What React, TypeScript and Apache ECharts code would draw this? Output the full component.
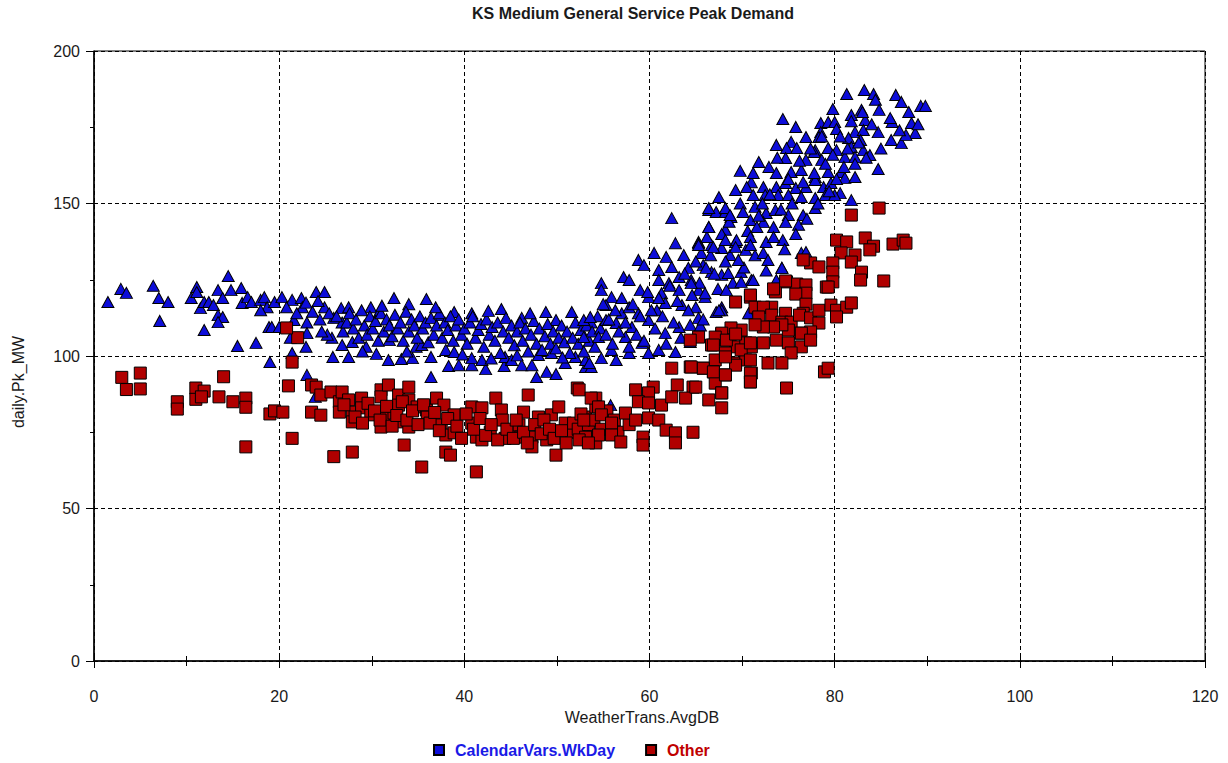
import React, { useEffect, useRef } from "react";
import * as echarts from "echarts";

const chartTitle = "KS Medium General Service Peak Demand";
const xAxisName = "WeatherTrans.AvgDB";
const yAxisName = "daily.Pk_MW";
const seriesNames = ["CalendarVars.WkDay", "Other"];

// Weekday peaks, cold side (x < 27)
const wkdayCold: number[][] = [
  [1.5, 117.7], [2.9, 122], [3.5, 120.7], [6.4, 123], [7.0, 119], [8.0, 117.7], [7.1, 111.5],
  [10.5, 119], [11.1, 122.6], [11.1, 121], [11.5, 115.7], [11.9, 117.7], [12.4, 117.7], [12.9, 116.7],
  [11.9, 108.5], [13.4, 121.6], [13.9, 119], [13.4, 113.4], [13.9, 112.8], [13.4, 111.1], [14.5, 126.2],
  [14.8, 121.6], [15.9, 122.3], [16, 117.4], [16.6, 119.3], [15.5, 103.3], [17.5, 104.3], [17, 117.7],
  [18, 118.4], [18.4, 119.3], [18.7, 116], [19.5, 117.7], [18.9, 109.5], [19.2, 109.5], [20, 109.5],
  [19, 98], [18, 115], [20.3, 119.3], [21.4, 118.4], [22.4, 119], [22.5, 116], [21.4, 101], [22.9, 103],
  [23, 93.8], [24, 121], [24.9, 121], [23.9, 86.6], [21.6, 111.8], [23, 111], [24.9, 116], [25.7, 106],
  [25.9, 112.5], [26.7, 115.7], [26.8, 111], [25.2, 107], [25.8, 99.7], [23, 107.5], [20.8, 116],
  [21.9, 114], [22.9, 117.5], [23.6, 114.5], [24.4, 112], [24.2, 118], [25.4, 114], [21.2, 106], [24.6, 108],
];

// Weekday peaks, mild band (27..55)
const wkdayMild: number[][] = [
  [32.4, 119], [35.9, 118.7], [34, 117], [29.9, 116], [30.8, 114.4], [27.5, 116], [44, 115.4],
  [40.8, 114], [37.3, 113.4], [38.9, 114.4], [48.8, 114.4], [51.6, 114.4], [46.2, 112.5], [49.9, 111.8],
  [53.7, 111], [27.5, 99.7], [30.5, 100.7], [31.8, 98.7], [33.2, 99], [34.4, 99.3], [36.4, 99.7],
  [36.4, 93.1], [38.3, 96.7], [39.4, 97], [40.8, 97], [42.3, 95.7], [44.3, 96.7], [46.2, 97],
  [47.8, 93.1], [48.9, 94.8], [49.9, 94.1], [47.3, 97], [50.9, 97.7], [53.1, 96.4], [53.7, 96.4],
  [26.8, 103.6], [27.9, 104.6], [29.4, 103], [31.9, 105.2], [34.8, 103], [35.4, 103.6], [38, 102],
  [38.9, 101.3], [40.8, 99.3], [41.9, 98.7], [44.4, 99.7], [45.1, 98.7], [48, 100.3], [49.4, 101],
  [52, 99.7], [53.1, 98.7],
  [26.2, 113], [26.9, 108], [27.3, 111], [27.6, 114], [28, 109], [28.3, 112], [28.6, 106], [28.9, 115],
  [29.2, 110], [29.5, 107], [29.8, 113], [30.1, 109], [30.4, 111.5], [30.7, 105], [31, 114], [31.3, 108],
  [31.6, 112], [31.9, 110], [32.2, 106.5], [32.5, 113.5], [32.8, 109], [33.1, 111], [33.4, 105],
  [33.7, 114.5], [34, 108], [34.3, 112], [34.6, 110], [34.9, 106], [35.2, 113], [35.5, 109], [35.8, 111],
  [36.1, 104.5], [36.4, 112.5], [36.7, 107], [37, 110], [37.3, 114], [37.6, 106], [37.9, 111],
  [38.2, 108.5], [38.5, 113], [38.8, 105], [39.1, 110], [39.4, 112], [39.7, 107], [40, 109], [40.3, 104],
  [40.6, 111], [40.9, 113], [41.2, 106], [41.5, 108.5], [41.8, 110.5], [42.1, 103], [42.4, 112],
  [42.7, 107], [43, 109.5], [43.3, 105], [43.6, 111], [43.9, 101], [44.2, 108], [44.5, 112.5], [44.8, 106],
  [45.1, 110], [45.4, 103.5], [45.7, 108], [46, 111], [46.3, 105], [46.6, 109], [46.9, 101.5], [47.2, 107],
  [47.5, 111.5], [47.8, 104], [48.1, 109], [48.4, 102], [48.7, 106.5], [49, 110.5], [49.3, 104],
  [49.6, 108], [49.9, 102.5], [50.2, 106], [50.5, 110], [50.8, 104.5], [51.1, 108], [51.4, 101],
  [51.7, 106], [52, 111], [52.3, 104], [52.6, 108.5], [52.9, 101.5], [53.2, 110], [53.5, 105], [53.8, 108],
  [54.1, 103], [54.4, 113], [54.7, 109], [31.1, 116.5], [36.9, 116], [42.6, 114.8], [47.1, 114],
  [33.8, 101.5], [39.8, 100.5], [45.7, 100.2], [50.6, 99.5], [29, 101.5], [42.9, 99.2],
];

// Weekday peaks, warming (55..72)
const wkdayWarm: number[][] = [
  [62.4, 145.2], [66.4, 147.9], [67.2, 147.2], [68.2, 147.2], [68.8, 145.6], [66.4, 142.3], [68.2, 141.4],
  [62.8, 137], [65.3, 137.4], [60.5, 133.8], [63.7, 133.1], [61.8, 132.5], [58.8, 131.5], [59.4, 129.8],
  [65.6, 133.8], [66.7, 136.4], [67.8, 135.4], [69.3, 137.4], [70.4, 134.8], [68.7, 133.1], [65.8, 129.8],
  [66.7, 127.5], [67.8, 126.6], [69.9, 127.5], [71, 124.9], [57.2, 125.9], [57.8, 124.9], [61, 128.2],
  [62.4, 129.2], [64.2, 128.9], [63.2, 125.9], [61, 124.9], [62.1, 123.9], [64.5, 124.9], [54.8, 123.9],
  [54.8, 121.6], [55.9, 119.3], [55.3, 116.7], [59, 121.6], [59.9, 119.3], [61.3, 120.6], [63.2, 121.6],
  [65.3, 121.6], [66, 119.3], [61.7, 117.4], [63.5, 116.7], [65, 116], [67.8, 116], [67.2, 114.4],
  [60.8, 115], [58.8, 114], [57, 114], [57.8, 116], [52.9, 111.8], [53.6, 112.8], [55.3, 111.8],
  [56.4, 110.8], [58.1, 109.5], [59.9, 111.8], [61.7, 107.5], [63.2, 109.5], [52.9, 106.2], [54.5, 106.2],
  [55.9, 102], [57.4, 106.2], [57.8, 101], [59.2, 104.3], [59.9, 101], [61, 102], [62.8, 101.3],
  [64.4, 104.6], [56.4, 98.7], [53.5, 97.7], [54.8, 99.3], [55.8, 83.9], [70.9, 114], [67.8, 115],
  [65.3, 137], [74.3, 128.9], [70.7, 114], [67.5, 115], [65.3, 112.5], [64.4, 110.2], [65.5, 110],
  [55, 117], [55.3, 107], [55.6, 112], [56, 104], [56.3, 115], [56.7, 108], [57, 119], [57.4, 111],
  [57.8, 103], [58.2, 117], [58.6, 107], [59, 113], [59.4, 105], [59.8, 121], [60.2, 115], [60.6, 109],
  [61, 119], [61.4, 113], [61.8, 104], [62.2, 123], [62.6, 111], [63, 118], [63.4, 106], [63.8, 127],
  [64.2, 115], [64.6, 120], [65, 131], [65.4, 124], [65.8, 112], [66.2, 139], [66.6, 133], [67, 127],
  [67.4, 122], [67.8, 140], [68.2, 131], [68.6, 144], [69, 124], [69.4, 138], [69.8, 150], [70.2, 129],
  [70.6, 141], [71, 157], [71.4, 133],
];

// Weekday peaks, hot side (x > 64, high loads)
const wkdayHot: number[][] = [
  [81.3, 185.9], [83.2, 187.2], [84.2, 185.9], [84.4, 184], [86.6, 185.6], [87.2, 183.3], [89.3, 182],
  [79.8, 181], [81.8, 179], [82.9, 180.7], [83.3, 177.4], [84.8, 180.7], [74.4, 177.7], [75.8, 175.1],
  [76.9, 171.8], [78.5, 176.4], [79.3, 176.7], [80, 176.7], [78.5, 173.4], [80.2, 174.4], [82.2, 173.4],
  [83.1, 174.1], [84.7, 173.4], [86.2, 176.7], [88.3, 176.4], [88.7, 173.1], [86.1, 170.8], [87.2, 169.8],
  [87.7, 172.5], [81.5, 171.5], [82.8, 170.8], [78.3, 171.8], [73.7, 169.2], [75.3, 170.2], [74.8, 168.2],
  [75.9, 168.2], [77.9, 167.5], [79.3, 168.2], [80.2, 167.5], [81.8, 168.5], [83.1, 167.5], [83.8, 165.9],
  [81.1, 165.2], [82.2, 165.2], [84.7, 161.3], [71.8, 163.6], [72.9, 162], [74.7, 164.9], [76.9, 164.3],
  [77.8, 166.9], [78.6, 164.3], [69.8, 160.7], [71.2, 160], [73.7, 160], [75.3, 160.3], [76.4, 161],
  [77.9, 158.7], [79.3, 160.3], [80.7, 160.3], [81.1, 158.4], [82.2, 158.7], [69.3, 154.4], [70.5, 155.4],
  [71.2, 152.8], [72.3, 155.4], [73.7, 155.4], [74.7, 156.7], [75.8, 155.1], [76.9, 155.4], [77.9, 157.7],
  [78.8, 155.4], [79.6, 156.7], [80.6, 153.4], [81.8, 151.1], [67.5, 152.1], [72.5, 152.8], [73.9, 152.8],
  [75, 152.8], [76.4, 152.1], [77.9, 151.8], [79, 152.8], [80, 152.8], [66.4, 148.5], [68.2, 148.5],
  [68.7, 146.2], [70.1, 147.2], [71.4, 148.9], [72.6, 146.9], [73.6, 147.9], [75, 146.2], [76.6, 146.2],
  [77.9, 148.5], [70.9, 144.6], [72.3, 143.9], [74.7, 143.9], [76.1, 143], [71.6, 142.3], [73.4, 142.3],
  [66.4, 142.3], [65.3, 136.4], [66.9, 135.7], [68.2, 138], [69.3, 135.7], [70.9, 139], [70.9, 136.4],
  [72.6, 137.4], [74.4, 138], [76.4, 133.8], [76.9, 134.1], [72.3, 133.8], [74.3, 128.9], [73.7, 124.9],
  [71.2, 124.9], [72.8, 131.5], [69.6, 131.5], [68.5, 127.2], [66.1, 128.9], [64.5, 123.9], [66, 120.6],
  [68.3, 121.6], [69.9, 124.3], [71.8, 146], [72.2, 150], [72.6, 128], [73, 153], [73.4, 139], [73.8, 165],
  [74.2, 148], [74.6, 135], [75, 158], [75.4, 150], [75.8, 140], [76.2, 164], [76.6, 157], [77, 145],
  [77.4, 168], [77.8, 160], [78.2, 150], [78.6, 172], [79, 163], [79.4, 154], [79.8, 166], [80.2, 158],
  [80.6, 172], [81, 162], [81.4, 168], [81.8, 177], [82.2, 163], [82.6, 170], [83, 180], [83.4, 165],
  [84, 176], [85, 168], [86, 178], [87, 174], [88, 180], [89, 176], [89.8, 182],
];

// Other days, cold side (x < 27)
const otherCold: number[][] = [
  [3, 93], [3.5, 89], [5, 94.4], [5, 89.2], [9, 85], [9, 82.6], [11, 89.5], [11, 85.8], [11.9, 88.5],
  [11.6, 86.6], [14, 93.2], [13.5, 86.6], [15, 85], [16.4, 86.2], [16.4, 83.2], [16.4, 70.2], [19, 81],
  [19.5, 82], [20.4, 81.6], [21, 90.2], [21.4, 98], [22, 106], [20.8, 109.2], [21.4, 73], [23.5, 90.5],
  [24, 89.8], [24.5, 87.2], [23.5, 81.6], [24.5, 80.6], [25.6, 88.2], [26.5, 85], [26.5, 81.6], [25.9, 67],
];

// Other days, mild band (27..58)
const otherMild: number[][] = [
  [26.8, 88.2], [27.5, 85.6], [28.9, 86.2], [27.9, 81.6], [27.9, 78.4], [28.9, 83], [29.9, 80.7],
  [31, 88.9], [31, 86.6], [31.8, 90.5], [31, 76.7], [31.3, 80.7], [32.4, 81.3], [32.9, 87.2], [32.9, 83.9],
  [34, 89.8], [34, 85.6], [32.9, 78.4], [34, 76.7], [34.9, 83.3], [35.9, 82.3], [36, 80], [37, 86.2],
  [37.8, 83.9], [38.9, 80.7], [37.5, 77.4], [38, 74.1], [38.9, 74.8], [33.5, 70.8], [27.9, 68.5],
  [35.4, 63.6], [38, 68.5], [38.5, 67.5], [40.8, 83.3], [41.9, 83], [40.8, 78], [41.3, 73.4], [41.9, 72.5],
  [41.3, 62], [43.4, 86.2], [44, 82.3], [44.1, 79], [45, 75], [45.9, 77.4], [46.4, 81.6], [46.9, 87.2],
  [46.1, 73.4], [47.3, 73.4], [47.3, 70.2], [48, 80], [48.9, 72.5], [49.4, 80.7], [49.9, 67.5],
  [50.2, 83.3], [50.9, 78], [51.6, 75], [52.2, 89.5], [53.1, 80], [52.9, 73.4], [53.9, 73.4], [54.2, 86.2],
  [54.2, 83.3], [54.2, 71.5], [44.4, 73], [42.8, 75],
  [27, 84], [28.2, 80], [29, 78], [29.6, 84.5], [30.3, 82], [30.9, 79], [31.6, 83.5], [32.2, 77],
  [32.7, 80.5], [33.3, 85], [33.8, 79], [34.4, 82], [35, 77.5], [35.6, 84], [36.3, 78], [36.8, 81.5],
  [37.3, 75.5], [38.2, 79.5], [39.2, 77], [39.7, 73], [40.2, 81], [41, 76], [41.7, 79.5], [42.3, 74],
  [42.9, 77.5], [43.6, 72.5], [44.6, 76], [45.3, 73], [45.6, 79], [46.4, 75], [46.8, 71.5], [47.6, 77.5],
  [48.3, 74.5], [48.6, 79], [49.2, 76], [49.7, 73], [50.5, 75.5], [51, 71.5], [51.8, 78], [52.3, 76],
  [52.6, 81], [53.4, 77.5], [54, 79], [54.8, 76], [55.4, 82], [56.2, 79], [56.6, 75], [57.8, 77.5],
];

// Other days, warm side (x > 52)
const otherWarm: number[][] = [
  [69.3, 117.7], [70.9, 119.3], [65.3, 106.2], [64.4, 105.2], [66.7, 103.6], [67.8, 107.2], [68.7, 106.2],
  [69.8, 107.9], [69.3, 103], [70.4, 104.3], [71, 103], [68.2, 105.2], [67.1, 98.7], [68.2, 101],
  [69.3, 97.7], [70.4, 98.7], [71, 94.4], [70.9, 91.5], [62.4, 96], [64.4, 96.4], [65.8, 96], [66.9, 94.8],
  [68.2, 93.8], [63, 90.5], [64.7, 89.8], [67.1, 91.1], [67.8, 87.9], [66.4, 85.6], [67.8, 83],
  [60.4, 89.8], [59.9, 87.9], [58.5, 88.9], [58.8, 85], [59.9, 84.6], [61.3, 83.9], [62.4, 86.6],
  [63.9, 86.2], [52.4, 88.9], [53.7, 86.2], [54.5, 83.3], [52.9, 79], [54.8, 80.7], [55.9, 78], [57.4, 81.3],
  [58.5, 79], [59.9, 79.7], [61, 79], [53.1, 73.4], [54.5, 74.1], [55.9, 74.1], [56.9, 71.8], [59.3, 73.4],
  [59.3, 70.8], [61.8, 75.7], [62.8, 74.8], [62.8, 71.5], [64.7, 75], [52.4, 72.5], [53.4, 71.5],
  [81.8, 146.2], [84.8, 148.5], [80.2, 138], [81.3, 137.4], [83.3, 138.7], [84.2, 136], [86.3, 136.7],
  [87.4, 138], [87.7, 137], [80.7, 133.8], [82.2, 133.1], [83.8, 134.8], [79.8, 130.5], [81.8, 130.8],
  [82.9, 127.5], [79.8, 127.5], [79.8, 124.3], [79.1, 122.6], [82.8, 124.9], [85.3, 124.6], [77.4, 130.5],
  [78.3, 129.2], [76.6, 131.5], [74.8, 124.3], [75.9, 123.6], [76.9, 123.3], [76.9, 120.6], [73.6, 121],
  [70.9, 120], [73.4, 122], [74.7, 124.6], [75.8, 120.3], [76.9, 117], [76.6, 114], [74.7, 114], [73.2, 116],
  [71.4, 116], [72.3, 116], [73.2, 113.4], [71.8, 112.8], [74.3, 111.1], [75.3, 111.1], [76.2, 113.4],
  [77.4, 112.5], [78.3, 115], [78.3, 110.8], [79.6, 116.7], [80.2, 115], [81.3, 116], [81.8, 117.4],
  [80.2, 112.8], [79.3, 122.6], [77.4, 107.9], [76.2, 107.5], [75, 108.5], [74.3, 110.2], [73.4, 109.5],
  [72.3, 109.5], [71.4, 110.2], [69.9, 108.5], [68.8, 109.2], [67.8, 107.5], [67.1, 106.2], [66.9, 103.6],
  [68.3, 105.2], [69.3, 107.2], [69.9, 102], [70.9, 104.3], [72.3, 104.3], [73.7, 105.2], [75, 104.3],
  [76.4, 107.5], [76.4, 103], [77.4, 105.2], [75.3, 101], [72.8, 97.7], [74.3, 97.7], [70.9, 98.7],
  [69.3, 97], [68.2, 99.7], [65.8, 96], [64.5, 96.4], [66.9, 94.8], [68.2, 93.8], [70.9, 94.4], [70.9, 91.5],
  [74.8, 89.5], [78.9, 94.8], [79.3, 96], [67.8, 87.9], [65, 89.8],
];

const wkdayPoints = [...wkdayCold, ...wkdayMild, ...wkdayWarm, ...wkdayHot];
const otherPoints = [...otherCold, ...otherMild, ...otherWarm];

const FONT = "'Liberation Sans', Arial, sans-serif";
const FS = 16;

export default function App() {
  const ref = useRef<HTMLDivElement>(null);
  useEffect(() => {
    if (!ref.current) return;
    const chart = echarts.init(ref.current, null, { renderer: "svg" });
    const gridLine = { show: true, lineStyle: { color: "#000", width: 1, type: [4, 3] as any } };
    chart.setOption({
      animation: false,
      backgroundColor: "#fff",
      textStyle: { fontFamily: FONT },
      title: {
        text: chartTitle,
        left: 628,
        textAlign: "center",
        top: 0,
        textStyle: { fontSize: FS, fontWeight: "bold", color: "#1a1a1a", fontFamily: FONT },
      },
      grid: {
        left: 94,
        right: 23,
        top: 51,
        bottom: 102,
        show: true,
        borderColor: "#000",
        borderWidth: 1,
        containLabel: false,
        outerBoundsMode: "none",
      },
      legend: {
        left: 428,
        top: 737,
        icon: "rect",
        itemWidth: 10,
        itemHeight: 10,
        itemGap: 30,
        textStyle: { fontSize: FS, fontWeight: "bold", fontFamily: FONT, padding: [0, 0, 0, 6] },
        data: [
          { name: seriesNames[0], textStyle: { color: "#1a1ae6" } },
          { name: seriesNames[1], textStyle: { color: "#c00000" } },
        ],
      },
      xAxis: [
        {
          type: "value",
          min: 0,
          max: 120,
          interval: 20,
          axisLine: { show: true, onZero: false, lineStyle: { color: "#000", width: 1.5 } },
          axisTick: { show: true, length: 7, lineStyle: { color: "#000" } },
          minorTick: { show: true, splitNumber: 2, length: 5, lineStyle: { color: "#000" } },
          axisLabel: { margin: 27, fontSize: FS, color: "#1a1a1a", fontFamily: FONT },
          splitLine: gridLine,
        },
        {
          type: "value",
          min: 0,
          max: 120,
          interval: 20,
          position: "bottom",
          axisLine: { show: false },
          axisTick: { show: true, inside: true, length: 7, lineStyle: { color: "#000" } },
          minorTick: { show: true, splitNumber: 2, length: 5, lineStyle: { color: "#000" } },
          axisLabel: { show: false },
          splitLine: { show: false },
        },
      ],
      yAxis: [
        {
          type: "value",
          min: 0,
          max: 200,
          interval: 50,
          axisLine: { show: true, onZero: false, lineStyle: { color: "#000", width: 1.5 } },
          axisTick: { show: true, length: 8, lineStyle: { color: "#000" } },
          minorTick: { show: true, splitNumber: 2, length: 4, lineStyle: { color: "#000" } },
          axisLabel: { margin: 14, fontSize: FS, color: "#1a1a1a", fontFamily: FONT },
          splitLine: gridLine,
        },
        {
          type: "value",
          min: 0,
          max: 200,
          interval: 50,
          position: "left",
          axisLine: { show: false },
          axisTick: { show: false },
          minorTick: { show: true, splitNumber: 2, length: 3, lineStyle: { color: "#000" } },
          axisLabel: { show: false },
          splitLine: { show: false },
        },
      ],
      graphic: [
        {
          type: "text",
          x: 642,
          y: 717,
          style: { text: xAxisName, font: `${FS}px ${FONT}`, fill: "#1a1a1a", align: "center", verticalAlign: "middle" },
        },
        {
          type: "text",
          x: 18,
          y: 382,
          rotation: Math.PI / 2,
          style: { text: yAxisName, font: `${FS}px ${FONT}`, fill: "#1a1a1a", align: "center", verticalAlign: "middle" },
        },
      ],
      series: [
        {
          name: seriesNames[0],
          type: "scatter",
          symbol: "triangle",
          symbolSize: [12, 11],
          data: wkdayPoints,
          itemStyle: { color: "#0d0dd9", borderColor: "#000", borderWidth: 1, opacity: 1 },
          emphasis: { disabled: true },
        },
        {
          name: seriesNames[1],
          type: "scatter",
          symbol: "rect",
          symbolSize: 12,
          data: otherPoints,
          itemStyle: { color: "#b00000", borderColor: "#000", borderWidth: 1, opacity: 1 },
          emphasis: { disabled: true },
        },
      ],
    });
    return () => chart.dispose();
  }, []);
  return (
    <div
      ref={ref}
      style={{ position: "fixed", left: 0, top: 0, width: 1228, height: 763, background: "#fff" }}
    />
  );
}
